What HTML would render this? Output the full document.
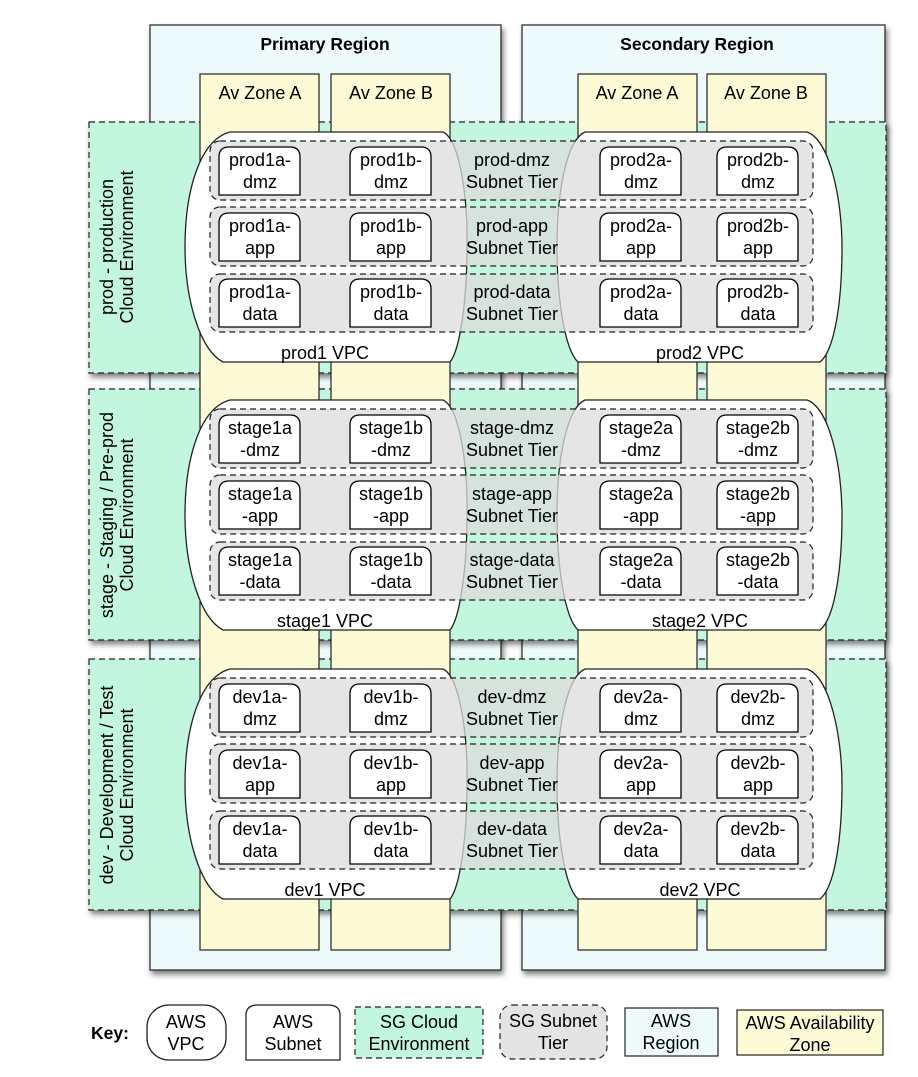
<!DOCTYPE html>
<html><head><style>
body{margin:0;background:#fff;}
svg{display:block;font-family:"Liberation Sans",sans-serif;}
</style></head><body>
<svg width="918" height="1077" viewBox="0 0 918 1077" xmlns="http://www.w3.org/2000/svg">
<defs>
<filter id="sh" x="-10%" y="-10%" width="130%" height="130%"><feDropShadow dx="2" dy="4" stdDeviation="3" flood-color="#000" flood-opacity="0.5"/></filter>
<g id="sub"><path d="M0,48 V10 Q0,0 10,0 H71 Q81,0 81,10 V48 Z" fill="#fff" stroke="#000" stroke-width="1.3"/></g>
</defs>
<rect x="150" y="25" width="351" height="945" fill="#eefbfd" stroke="#222" stroke-width="1.2" filter="url(#sh)"/>
<rect x="522" y="25" width="363" height="945" fill="#eefbfd" stroke="#222" stroke-width="1.2" filter="url(#sh)"/>
<text x="325" y="50" font-size="17.5" font-weight="bold" text-anchor="middle">Primary Region</text>
<text x="697" y="50" font-size="17.5" font-weight="bold" text-anchor="middle">Secondary Region</text>
<g fill="#c3f6df" stroke="#222" stroke-width="1.2" stroke-dasharray="6,4" filter="url(#sh)">
<rect x="89" y="122" width="797" height="251"/>
<rect x="89" y="389" width="797" height="251"/>
<rect x="89" y="659" width="797" height="251"/>
</g>
<g fill="#fdfad6" stroke="#222" stroke-width="1.2">
<rect x="200" y="74" width="119" height="876"/>
<rect x="331" y="74" width="119" height="876"/>
<rect x="578" y="74" width="119" height="876"/>
<rect x="707" y="74" width="119" height="876"/>
</g>
<g font-size="18" text-anchor="middle">
<text x="260" y="99">Av Zone A</text><text x="391" y="99">Av Zone B</text>
<text x="637" y="99">Av Zone A</text><text x="766" y="99">Av Zone B</text>
</g>
<g font-size="18" text-anchor="middle">
<text transform="translate(117,247) rotate(-90)"><tspan x="0" y="-4">prod - production</tspan><tspan x="0" y="16">Cloud Environment</tspan></text>
<text transform="translate(117,515) rotate(-90)"><tspan x="0" y="-4">stage - Staging / Pre-prod</tspan><tspan x="0" y="16">Cloud Environment</tspan></text>
<text transform="translate(117,785) rotate(-90)"><tspan x="0" y="-4">dev - Development  / Test</tspan><tspan x="0" y="16">Cloud Environment</tspan></text>
</g>

<g id="env">
<path d="M230,132 L443,132 C460,140 468,200 467,247 C467,300 460,350 450,362 L223,362 C200,350 185,300 185,247 C185,190 200,140 230,132Z" fill="#fff" stroke="#222" stroke-width="1.3"/>
<path d="M585,132 L807,132 C830,140 842,200 842,247 C842,300 835,350 820,362 L578,362 C565,350 557,300 557,247 C557,190 567,140 585,132Z" fill="#fff" stroke="#222" stroke-width="1.3"/>
<g fill="#dcdcdc" fill-opacity="0.75" stroke="#222" stroke-width="1.2" stroke-dasharray="6,4">
<rect x="210" y="141" width="603" height="59" rx="10"/>
<rect x="210" y="207" width="603" height="59" rx="10"/>
<rect x="210" y="274" width="603" height="58" rx="10"/>
</g>
</g>
<use href="#env" y="268"/>
<use href="#env" y="537"/>

<g>
<use href="#sub" x="219" y="147"/><use href="#sub" x="350" y="147"/><use href="#sub" x="600" y="147"/><use href="#sub" x="717" y="147"/>
<use href="#sub" x="219" y="213"/><use href="#sub" x="350" y="213"/><use href="#sub" x="600" y="213"/><use href="#sub" x="717" y="213"/>
<use href="#sub" x="219" y="279"/><use href="#sub" x="350" y="279"/><use href="#sub" x="600" y="279"/><use href="#sub" x="717" y="279"/>
<use href="#sub" x="219" y="415"/><use href="#sub" x="350" y="415"/><use href="#sub" x="600" y="415"/><use href="#sub" x="717" y="415"/>
<use href="#sub" x="219" y="481"/><use href="#sub" x="350" y="481"/><use href="#sub" x="600" y="481"/><use href="#sub" x="717" y="481"/>
<use href="#sub" x="219" y="547"/><use href="#sub" x="350" y="547"/><use href="#sub" x="600" y="547"/><use href="#sub" x="717" y="547"/>
<use href="#sub" x="219" y="684"/><use href="#sub" x="350" y="684"/><use href="#sub" x="600" y="684"/><use href="#sub" x="717" y="684"/>
<use href="#sub" x="219" y="750"/><use href="#sub" x="350" y="750"/><use href="#sub" x="600" y="750"/><use href="#sub" x="717" y="750"/>
<use href="#sub" x="219" y="816"/><use href="#sub" x="350" y="816"/><use href="#sub" x="600" y="816"/><use href="#sub" x="717" y="816"/>
</g>

<g font-size="18" text-anchor="middle">
<text x="260" y="166">prod1a-<tspan x="260" y="188">dmz</tspan></text>
<text x="391" y="166">prod1b-<tspan x="391" y="188">dmz</tspan></text>
<text x="512" y="166">prod-dmz<tspan x="512" y="188">Subnet Tier</tspan></text>
<text x="641" y="166">prod2a-<tspan x="641" y="188">dmz</tspan></text>
<text x="758" y="166">prod2b-<tspan x="758" y="188">dmz</tspan></text>
<text x="260" y="232">prod1a-<tspan x="260" y="254">app</tspan></text>
<text x="391" y="232">prod1b-<tspan x="391" y="254">app</tspan></text>
<text x="512" y="232">prod-app<tspan x="512" y="254">Subnet Tier</tspan></text>
<text x="641" y="232">prod2a-<tspan x="641" y="254">app</tspan></text>
<text x="758" y="232">prod2b-<tspan x="758" y="254">app</tspan></text>
<text x="260" y="298">prod1a-<tspan x="260" y="320">data</tspan></text>
<text x="391" y="298">prod1b-<tspan x="391" y="320">data</tspan></text>
<text x="512" y="298">prod-data<tspan x="512" y="320">Subnet Tier</tspan></text>
<text x="641" y="298">prod2a-<tspan x="641" y="320">data</tspan></text>
<text x="758" y="298">prod2b-<tspan x="758" y="320">data</tspan></text>
<text x="325" y="359">prod1 VPC</text><text x="700" y="359">prod2 VPC</text>
<text x="260" y="434">stage1a<tspan x="260" y="456">-dmz</tspan></text>
<text x="391" y="434">stage1b<tspan x="391" y="456">-dmz</tspan></text>
<text x="512" y="434">stage-dmz<tspan x="512" y="456">Subnet Tier</tspan></text>
<text x="641" y="434">stage2a<tspan x="641" y="456">-dmz</tspan></text>
<text x="758" y="434">stage2b<tspan x="758" y="456">-dmz</tspan></text>
<text x="260" y="500">stage1a<tspan x="260" y="522">-app</tspan></text>
<text x="391" y="500">stage1b<tspan x="391" y="522">-app</tspan></text>
<text x="512" y="500">stage-app<tspan x="512" y="522">Subnet Tier</tspan></text>
<text x="641" y="500">stage2a<tspan x="641" y="522">-app</tspan></text>
<text x="758" y="500">stage2b<tspan x="758" y="522">-app</tspan></text>
<text x="260" y="566">stage1a<tspan x="260" y="588">-data</tspan></text>
<text x="391" y="566">stage1b<tspan x="391" y="588">-data</tspan></text>
<text x="512" y="566">stage-data<tspan x="512" y="588">Subnet Tier</tspan></text>
<text x="641" y="566">stage2a<tspan x="641" y="588">-data</tspan></text>
<text x="758" y="566">stage2b<tspan x="758" y="588">-data</tspan></text>
<text x="325" y="627">stage1 VPC</text><text x="700" y="627">stage2 VPC</text>
<text x="260" y="703">dev1a-<tspan x="260" y="725">dmz</tspan></text>
<text x="391" y="703">dev1b-<tspan x="391" y="725">dmz</tspan></text>
<text x="512" y="703">dev-dmz<tspan x="512" y="725">Subnet Tier</tspan></text>
<text x="641" y="703">dev2a-<tspan x="641" y="725">dmz</tspan></text>
<text x="758" y="703">dev2b-<tspan x="758" y="725">dmz</tspan></text>
<text x="260" y="769">dev1a-<tspan x="260" y="791">app</tspan></text>
<text x="391" y="769">dev1b-<tspan x="391" y="791">app</tspan></text>
<text x="512" y="769">dev-app<tspan x="512" y="791">Subnet Tier</tspan></text>
<text x="641" y="769">dev2a-<tspan x="641" y="791">app</tspan></text>
<text x="758" y="769">dev2b-<tspan x="758" y="791">app</tspan></text>
<text x="260" y="835">dev1a-<tspan x="260" y="857">data</tspan></text>
<text x="391" y="835">dev1b-<tspan x="391" y="857">data</tspan></text>
<text x="512" y="835">dev-data<tspan x="512" y="857">Subnet Tier</tspan></text>
<text x="641" y="835">dev2a-<tspan x="641" y="857">data</tspan></text>
<text x="758" y="835">dev2b-<tspan x="758" y="857">data</tspan></text>
<text x="325" y="896">dev1 VPC</text><text x="700" y="896">dev2 VPC</text>
</g>

<text x="110" y="1039" font-size="17.5" font-weight="bold" text-anchor="middle">Key:</text>
<rect x="147" y="1005" width="79" height="55" rx="22" fill="#fff" stroke="#222" stroke-width="1.3"/>
<path d="M246,1060 V1015 Q246,1005 258,1005 H328 Q340,1005 340,1015 V1060 Z" fill="#fff" stroke="#222" stroke-width="1.3"/>
<rect x="355" y="1007" width="128" height="51" fill="#c3f6df" stroke="#222" stroke-width="1.2" stroke-dasharray="6,4"/>
<rect x="500" y="1005" width="107" height="54" rx="12" fill="#e4e4e4" stroke="#222" stroke-width="1.2" stroke-dasharray="6,4"/>
<rect x="625" y="1008" width="93" height="48" fill="#eefbfd" stroke="#222" stroke-width="1.2"/>
<rect x="737" y="1010" width="146" height="45" fill="#fdfad6" stroke="#222" stroke-width="1.2"/>
<g font-size="18" text-anchor="middle">
<text x="186" y="1028">AWS<tspan x="186" y="1050">VPC</tspan></text>
<text x="293" y="1028">AWS<tspan x="293" y="1050">Subnet</tspan></text>
<text x="419" y="1028">SG Cloud<tspan x="419" y="1050">Environment</tspan></text>
<text x="553" y="1027">SG Subnet<tspan x="553" y="1049">Tier</tspan></text>
<text x="671" y="1027">AWS<tspan x="671" y="1049">Region</tspan></text>
<text x="810" y="1029">AWS Availability<tspan x="810" y="1051">Zone</tspan></text>
</g>
</svg>
</body></html>
